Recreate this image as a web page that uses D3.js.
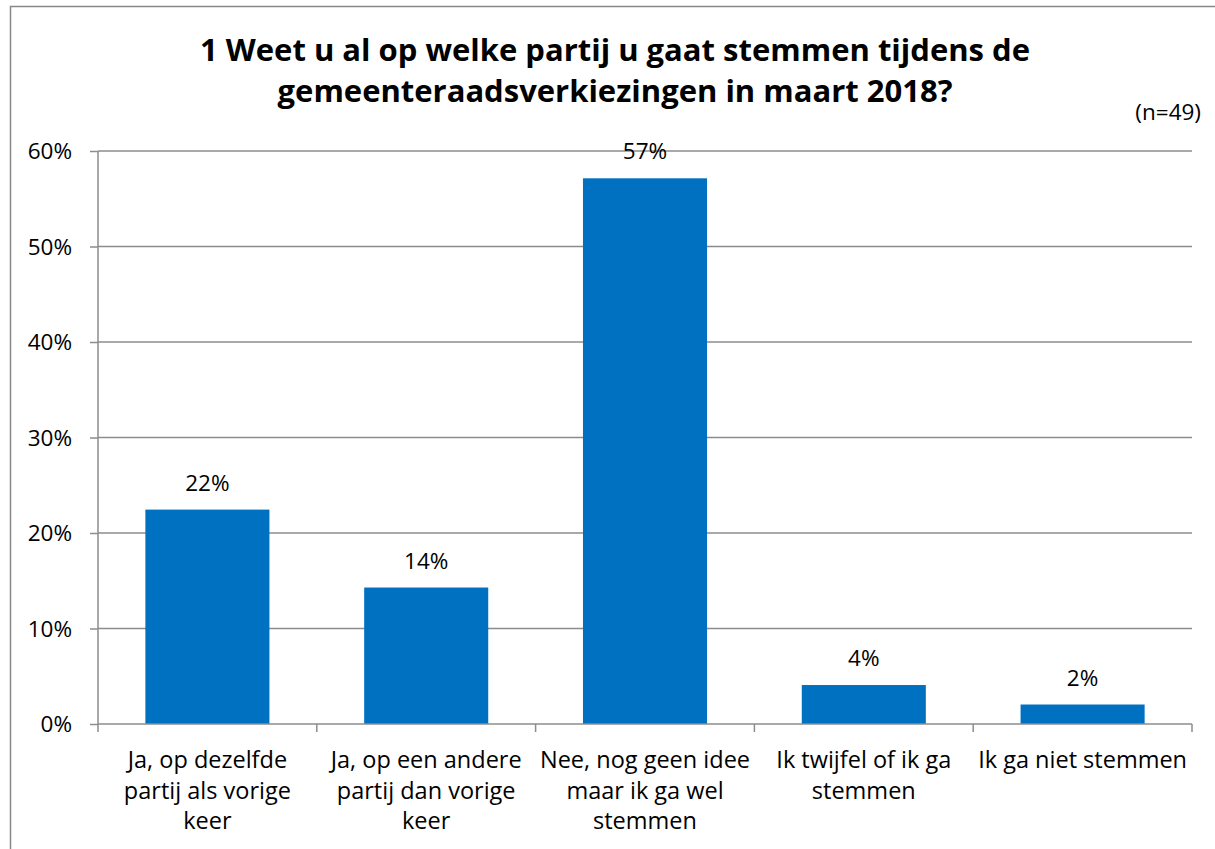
<!DOCTYPE html>
<html><head><meta charset="utf-8">
<script src="https://cdn.jsdelivr.net/npm/d3@7/dist/d3.min.js"></script>
<style>body{margin:0;background:#fff}svg{display:block}text{font-family:"Open Sans",sans-serif;fill:#000}</style>
</head><body>
<script>
const categories = [
  ["Ja, op dezelfde","partij als vorige","keer"],
  ["Ja, op een andere","partij dan vorige","keer"],
  ["Nee, nog geen idee","maar ik ga wel","stemmen"],
  ["Ik twijfel of ik ga","stemmen"],
  ["Ik ga niet stemmen"]
];
const values = [22.45, 14.29, 57.14, 4.08, 2.04];
const valueLabels = ["22%","14%","57%","4%","2%"];
const yTicks = [0,10,20,30,40,50,60];
const titleLines = ["1 Weet u al op welke partij u gaat stemmen tijdens de","gemeenteraadsverkiezingen in maart 2018?"];
const note = "(n=49)";

(function(){
const W=1215,H=849;
const svg=d3.select("body").append("svg").attr("width",W).attr("height",H);
svg.append("rect").attr("x",10.5).attr("y",6.5).attr("width",W).attr("height",H).attr("fill","none").attr("stroke","#888").attr("stroke-width",1.5);

const pl=98,pr=1192,pt=151,pb=724;
const x=d3.scaleBand().domain(d3.range(categories.length)).range([pl,pr]).paddingInner(0.433).paddingOuter(0.2165);
const y=d3.scaleLinear().domain([0,60]).range([pb,pt]);

svg.append("g").selectAll("line").data(yTicks.filter(d=>d>0)).join("line")
  .attr("x1",pl).attr("x2",pr).attr("y1",d=>y(d)).attr("y2",d=>y(d))
  .attr("stroke","#8c8c8c").attr("stroke-width",1.5);

svg.append("g").selectAll("rect").data(values).join("rect")
  .attr("x",(d,i)=>x(i)).attr("width",x.bandwidth())
  .attr("y",d=>y(d)).attr("height",d=>pb-y(d)).attr("fill","#0070c0");

const ya=svg.append("g").attr("transform",`translate(${pl},0)`)
  .call(d3.axisLeft(y).tickValues(yTicks).tickFormat(d=>d+"%").tickSize(8).tickPadding(18));
ya.select(".domain").attr("stroke","#8c8c8c").attr("stroke-width",1.5).attr("d",`M0,${pt}V${pb}`);
ya.selectAll(".tick line").attr("stroke","#8c8c8c").attr("stroke-width",1.5);
ya.selectAll(".tick text").attr("font-size",22.5).attr("font-family","Open Sans").attr("fill","#000").attr("dy","0.35em");

const step=(pr-pl)/categories.length;
const xa=svg.append("g");
xa.append("line").attr("x1",pl).attr("x2",pr).attr("y1",pb).attr("y2",pb).attr("stroke","#8c8c8c").attr("stroke-width",1.5);
xa.selectAll(".xt").data(d3.range(categories.length+1)).join("line")
  .attr("x1",i=>pl+i*step).attr("x2",i=>pl+i*step).attr("y1",pb).attr("y2",pb+8)
  .attr("stroke","#8c8c8c").attr("stroke-width",1.5);

const cl=svg.append("g").selectAll("text").data(categories).join("text")
  .attr("text-anchor","middle").attr("font-size",23.5)
  .attr("x",(d,i)=>x(i)+x.bandwidth()/2).attr("y",768);
cl.each(function(lines,i){
  const t=d3.select(this);
  lines.forEach((l,j)=>t.append("tspan").attr("x",x(i)+x.bandwidth()/2).attr("dy",j?30.5:0).text(l));
});

svg.append("g").selectAll("text").data(values).join("text")
  .attr("text-anchor","middle").attr("font-size",22.5)
  .attr("x",(d,i)=>x(i)+x.bandwidth()/2).attr("y",d=>y(d)-19)
  .text((d,i)=>valueLabels[i]);

svg.append("g").selectAll("text").data(titleLines).join("text")
  .attr("text-anchor","middle").attr("font-size",31).attr("font-weight","bold")
  .attr("x",615).attr("y",(d,i)=>61+i*41).text(d=>d);

svg.append("text").attr("x",1201).attr("y",120).attr("text-anchor","end").attr("font-size",22.5).text(note);
})();
</script>
</body></html>
